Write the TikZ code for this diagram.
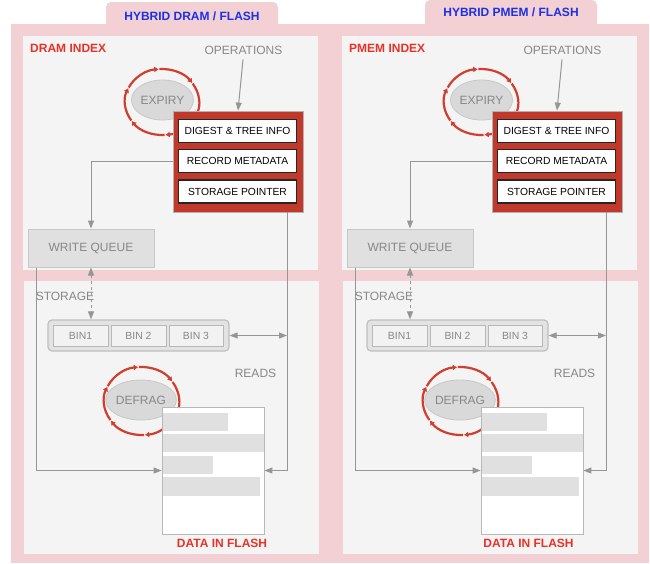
\documentclass[tikz,border=0pt]{standalone}
\usepackage{fontspec}
\setmainfont{Liberation Sans}
\usetikzlibrary{positioning,arrows.meta,calc,shapes.geometric}
\definecolor{panelpink}{RGB}{242,208,212}
\definecolor{panelgray}{RGB}{244,244,244}
\definecolor{boxred}{RGB}{192,57,43}
\definecolor{ringred}{RGB}{208,62,46}
\definecolor{labred}{RGB}{232,50,40}
\definecolor{labblue}{RGB}{28,48,232}
\definecolor{txtgray}{RGB}{135,135,135}
\definecolor{arrgray}{RGB}{150,150,150}
\tikzset{
  glabel/.style={text=txtgray,font=\fontsize{12}{14}\selectfont,inner sep=0pt},
  rlabel/.style={text=labred,font=\fontsize{12}{14}\selectfont\bfseries,inner sep=0pt},
  blabel/.style={text=labblue,font=\fontsize{12}{14}\selectfont\bfseries,inner sep=0pt},
  field/.style={draw=black!85,line width=1.2pt,fill=white,minimum width=118pt,
    minimum height=23pt,inner sep=0pt,font=\fontsize{10.3}{12}\selectfont},
  redbox/.style={draw=black!30,line width=0.8pt,fill=boxred,minimum width=130pt,
    minimum height=101pt,inner sep=0pt},
  oval/.style={ellipse,draw=black!22,line width=0.8pt,fill=black!15,text=txtgray,
    minimum width=62pt,minimum height=40pt,inner sep=0pt,font=\fontsize{12}{14}\selectfont},
  queue/.style={draw=black!22,line width=1pt,fill=black!12,text=txtgray,
    minimum width=126pt,minimum height=38pt,inner sep=0pt,font=\fontsize{12}{14}\selectfont},
  binrow/.style={draw=black!25,line width=1.2pt,fill=black!11,rounded corners=4pt,
    minimum width=181pt,minimum height=31pt,inner sep=0pt},
  bin/.style={draw=black!28,line width=0.8pt,fill=black!5,text=txtgray,
    minimum width=55pt,minimum height=21pt,inner sep=0pt,font=\fontsize{10.4}{12}\selectfont},
  dbox/.style={draw=black!28,line width=0.8pt,fill=white,minimum width=102pt,
    minimum height=127pt,inner sep=0pt},
  arr/.style={draw=arrgray,line width=1pt,-{Triangle[length=8pt,width=6pt]}},
  dblarr/.style={draw=arrgray,line width=1pt,{Triangle[length=8pt,width=6pt]}-{Triangle[length=8pt,width=6pt]}},
  ring/.style={draw=ringred,line width=2.2pt,-{Latex[length=4.5pt,width=6pt]}}
}

\begin{document}
\begin{tikzpicture}[x=1pt,y=-1pt]
\useasboundingbox (0,0) rectangle (650,563);
\fill[white] (0,0) rectangle (650,563);
% pink frame behind both panels
\fill[panelpink] (11,24) rectangle (649,563);
\foreach \p/\dx/\ttl/\idx/\tby/\tty/\dfx in {
l/0/{HYBRID DRAM / FLASH}/{DRAM INDEX}/2/16/222,
r/319/{HYBRID PMEM / FLASH}/{PMEM INDEX}/0/12/209.5}{
\begin{scope}[xshift=\dx pt]
% tab and title
\fill[panelpink,rounded corners=5pt] (106,30) rectangle (278,\tby);
\node[blabel] (\p-ttl) at (192,\tty) {\ttl};
\fill[panelgray] (23,36) rectangle (318,270);
\fill[panelgray] (24,281) rectangle (319,554);
% index part
\node[rlabel,anchor=west] (\p-idx) at (30,48) {\idx};
\node[glabel] (\p-ops) at (243.5,50) {OPERATIONS};
\node[oval] (\p-exp) at (162.5,100) {EXPIRY};
\foreach \t in {25,85,...,325}
  \draw[ring] (162,102) ++(\t-59:37 and 33) arc[start angle=\t-59,end angle=\t,x radius=37,y radius=33];
\node[redbox] (\p-mbox) at (238,161.5) {};
\node[field] (\p-dig) at (237.5,131) {DIGEST \& TREE INFO};
\node[field] (\p-rec) at (237.5,161) {RECORD METADATA};
\node[field] (\p-ptr) at (237.5,191.5) {STORAGE POINTER};
\draw[arr,shorten <=5pt] (\p-ops.south) -- (\p-mbox.north);
\node[queue] (\p-wq) at (91,248) {WRITE QUEUE};
\draw[arr] (\p-mbox.west |- \p-rec.west) -| (\p-wq.north);
% storage part
\node[glabel] (\p-sto) at (65,296) {STORAGE};
\node[binrow] (\p-bins) at (138.5,335.5) {};
\node[bin] (\p-b1) at (80.5,335.5) {BIN1};
\node[bin] (\p-b2) at (138.5,335.5) {BIN 2};
\node[bin,minimum width=54pt] (\p-b3) at (196,335.5) {BIN 3};
\node[glabel] (\p-rds) at (255.5,373) {READS};
\node[oval] (\p-dfg) at (141,400) {DEFRAG};
\foreach \t in {25,85,...,325}
  \draw[ring] (141.5,401) ++(\t-59:37.5 and 34) arc[start angle=\t-59,end angle=\t,x radius=37.5,y radius=34];
\node[dbox] (\p-data) at (213,470.5) {};
\fill[black!12] (163,413) rectangle (228,431);
\fill[black!12] (163,434) rectangle (263.5,452);
\fill[black!12] (163,456) rectangle (213,474);
\fill[black!12] (163,477) rectangle (260,496);
\node[rlabel] (\p-dif) at (\dfx,543) {DATA IN FLASH};
\coordinate (\p-rline) at (287,336);
\coordinate (\p-lline) at (36,336);
\draw[dblarr,dashed] (\p-wq.south) -- (\p-wq.south |- \p-bins.north);
\draw[arr] (\p-mbox.south -| \p-rline) |- (\p-data.east);
\draw[dblarr] (\p-bins.east) -- (\p-bins.east -| \p-rline);
\draw[arr] (\p-wq.south -| \p-lline) |- (\p-data.west);
\end{scope}}
\end{tikzpicture}
\end{document}
